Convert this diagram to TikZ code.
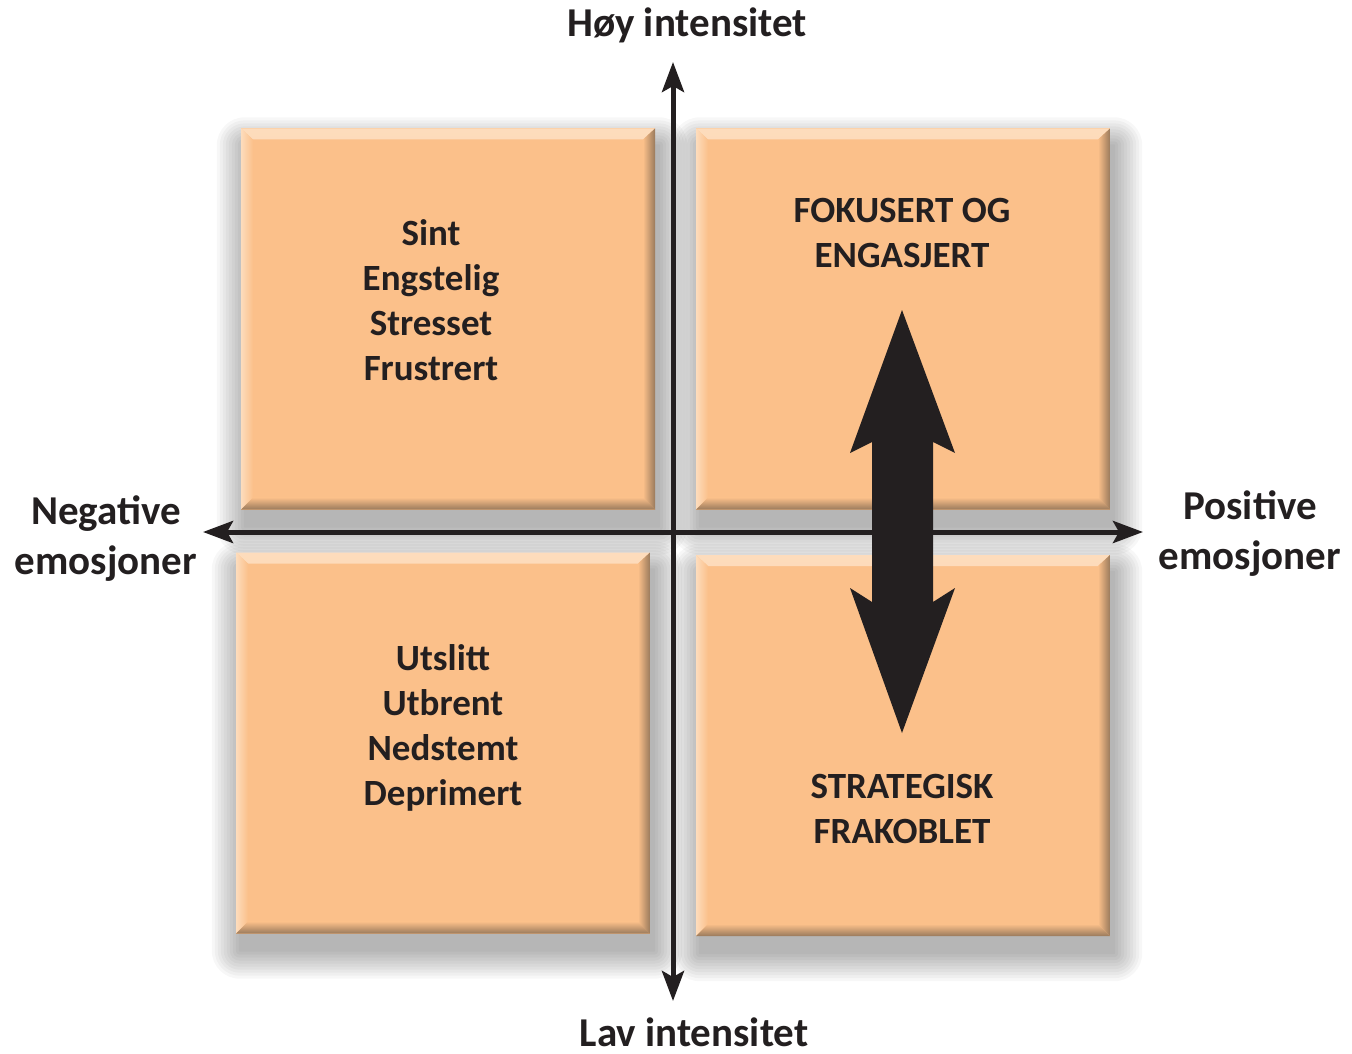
\documentclass[tikz,border=0pt]{standalone}
\usepackage{fontspec}
\setmainfont{Carlito}
\usetikzlibrary{arrows.meta,backgrounds}
\definecolor{boxfill}{HTML}{FBC08A}
\definecolor{boxlight}{HTML}{FDDCBC}
\definecolor{boxdark}{HTML}{9A7A5C}
\definecolor{ink}{HTML}{231F20}
\tikzset{
  qbox/.style={draw=none, fill=boxfill, minimum width=414pt, minimum height=381pt, inner sep=0pt,
    path picture={
      \def\bb{path picture bounding box}
      \shade[top color=boxlight, bottom color=boxfill]
        (\bb.north west) -- (\bb.north east) -- ([xshift=-12pt,yshift=-11pt]\bb.north east) -- ([xshift=12pt,yshift=-11pt]\bb.north west) -- cycle;
      \shade[left color=boxlight, right color=boxfill]
        (\bb.north west) -- ([xshift=12pt,yshift=-11pt]\bb.north west) -- ([xshift=12pt,yshift=12pt]\bb.south west) -- (\bb.south west) -- cycle;
      \shade[left color=boxfill, right color=boxdark]
        (\bb.north east) -- ([xshift=-12pt,yshift=-11pt]\bb.north east) -- ([xshift=-12pt,yshift=12pt]\bb.south east) -- (\bb.south east) -- cycle;
      \shade[top color=boxfill, bottom color=boxdark]
        (\bb.south west) -- ([xshift=12pt,yshift=12pt]\bb.south west) -- ([xshift=-12pt,yshift=12pt]\bb.south east) -- (\bb.south east) -- cycle;
    }},
  shadowlayer/.style={fill=black, opacity=0.033},
  lbl/.style={font=\bfseries\fontsize{37}{45}\selectfont, text=ink, align=center, inner sep=0pt, anchor=base},
  axislbl/.style={font=\bfseries\fontsize{41}{50}\selectfont, text=ink, align=center, inner sep=0pt, anchor=base},
  axis/.style={draw=ink, line width=5pt, -{Stealth[length=30pt,width=22pt,inset=6pt]}},
}
\newcommand\qshadow[1]{%
  \foreach \r in {28,25,...,1} {
    \fill[shadowlayer, rounded corners=\r pt]
      ([xshift=4pt-\r pt, yshift=-17pt+\r pt]#1.north west) rectangle
      ([xshift=4pt+\r pt, yshift=-17pt-\r pt]#1.south east);
  }}
\begin{document}
\begin{tikzpicture}[x=1pt,y=-1pt]
\useasboundingbox (0,0) rectangle (1352,1054);

\node[qbox] (tl) at (448,319) {};
\node[qbox] (tr) at (903,319) {};
\node[qbox] (bl) at (443,743) {};
\node[qbox] (br) at (903,745.5) {};

\begin{scope}[on background layer]
\fill[white] (0,0) rectangle (1352,1054);
\qshadow{tl}\qshadow{tr}\qshadow{bl}\qshadow{br}
\end{scope}

\coordinate (top) at (673,62);
\coordinate (bot) at (673,1001);
\coordinate (left) at (203,532);
\coordinate (right) at (1143,532);
\coordinate (cv) at (673,532);
\draw[axis] (cv) -- (top);
\draw[axis] (cv) -- (bot);
\draw[axis] (cv) -- (left);
\draw[axis] (cv) -- (right);

\node[lbl] (tltxt) at (431,380) {Sint\\Engstelig\\Stresset\\Frustrert};
\node[lbl] (trtxt) at (902,267) {FOKUSERT OG\\ENGASJERT};
\node[lbl] (bltxt) at (443,805) {Utslitt\\Utbrent\\Nedstemt\\Deprimert};
\node[lbl] (brtxt) at (902,843) {STRATEGISK\\FRAKOBLET};

\node[axislbl] (hoy) at (687,37) {Høy intensitet};
\node[axislbl] (lav) at (694,1046) {Lav intensitet};
\node[axislbl] (neg) at (106,574) {Negative\\emosjoner};
\node[axislbl] (pos) at (1250,569) {Positive\\emosjoner};

\fill[ink] (902,310) -- (955,453) -- (933,442) -- (933,602) -- (955,588) -- (902,733)
  -- (850,588) -- (872,602) -- (872,442) -- (850,453) -- cycle;
\end{tikzpicture}
\end{document}
